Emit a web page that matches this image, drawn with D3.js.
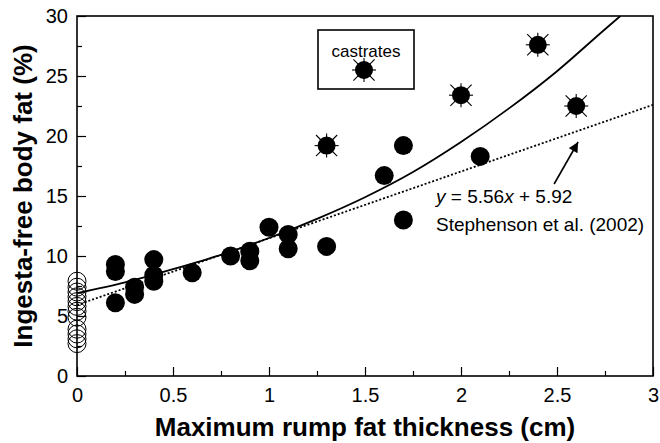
<!DOCTYPE html>
<html>
<head>
<meta charset="utf-8">
<script src="https://cdn.jsdelivr.net/npm/d3@7"></script>
<style>
  body { margin: 0; background: #fff; }
  text { font-family: "Liberation Sans", Arial, sans-serif; }
</style>
</head>
<body>
<div id="chart"></div>
<script>
const width = 660, height = 443;
const margin = { top: 16, right: 7, bottom: 67, left: 77 };

// steers measured with rump fat > 0
const steerX = [0.2, 0.2, 0.2, 0.3, 0.3, 0.4, 0.4, 0.4, 0.6, 0.8, 0.9, 0.9, 1.0, 1.1, 1.1, 1.3, 1.6, 1.7, 1.7, 2.1];
const steerY = [9.3, 8.7, 6.1, 7.4, 6.8, 9.7, 8.4, 7.9, 8.6, 10.0, 10.4, 9.6, 12.4, 11.8, 10.6, 10.8, 16.7, 19.2, 13.0, 18.3];

// castrates
const castrateX = [1.3, 2.0, 2.4, 2.6];
const castrateY = [19.2, 23.4, 27.6, 22.5];

// animals with no measurable rump fat (open circles)
const zeroFatY = [7.9, 7.4, 7.0, 6.6, 6.2, 5.8, 5.4, 4.9, 3.9, 3.5, 3.1, 2.7];

// fitted curve
const curveX = [0, 0.25, 0.5, 0.75, 1.0, 1.25, 1.5, 1.75, 2.0, 2.25, 2.5, 2.75, 2.83];
const curveY = [6.9, 7.8, 8.9, 10.1, 11.5, 13.1, 14.9, 17.0, 19.5, 22.3, 25.4, 28.9, 30];

// Stephenson et al. (2002) line
const refX = [0, 3];
const refY = [5.92, 22.6];

const xTicks = [0, 0.5, 1, 1.5, 2, 2.5, 3];
const xMinorTicks = [0.25, 0.75, 1.25, 1.75, 2.25, 2.75];
const yTicks = [0, 5, 10, 15, 20, 25, 30];
const yMinorTicks = [2.5, 7.5, 12.5, 17.5, 22.5, 27.5];

const svg = d3.select("#chart").append("svg")
  .attr("width", width)
  .attr("height", height);

const innerWidth = width - margin.left - margin.right;
const innerHeight = height - margin.top - margin.bottom;

const g = svg.append("g").attr("transform", `translate(${margin.left},${margin.top})`);

const x = d3.scaleLinear().domain([0, 3]).range([0, innerWidth]);
const y = d3.scaleLinear().domain([0, 30]).range([innerHeight, 0]);

const defs = svg.append("defs");
defs.append("clipPath").attr("id", "clip")
  .append("rect").attr("width", innerWidth).attr("height", innerHeight);

defs.append("marker")
  .attr("id", "arrow")
  .attr("viewBox", "0 0 10 10")
  .attr("refX", 10).attr("refY", 5)
  .attr("markerWidth", 12).attr("markerHeight", 10)
  .attr("markerUnits", "userSpaceOnUse")
  .attr("orient", "auto")
  .append("path").attr("d", "M0,0L10,5L0,10Z").attr("fill", "#000");

// axes: inward ticks, labels outside
const fontTick = "20px";
const xAxis = g.append("g")
  .attr("transform", `translate(0,${innerHeight})`)
  .call(d3.axisBottom(x).tickValues(xTicks).tickSizeInner(-9).tickSizeOuter(0).tickPadding(12)
    .tickFormat(d => d));
const xMinor = g.append("g")
  .attr("transform", `translate(0,${innerHeight})`)
  .call(d3.axisBottom(x).tickValues(xMinorTicks).tickSizeInner(-5).tickSizeOuter(0).tickFormat(""));
const yAxis = g.append("g")
  .call(d3.axisLeft(y).tickValues(yTicks).tickSizeInner(-9).tickSizeOuter(0).tickPadding(9));
const yMinor = g.append("g")
  .call(d3.axisLeft(y).tickValues(yMinorTicks).tickSizeInner(-5).tickSizeOuter(0).tickFormat(""));

[xAxis, xMinor, yAxis, yMinor].forEach(a => {
  a.select(".domain").remove();
  a.attr("font-size", fontTick).attr("font-family", "'Liberation Sans', Arial, sans-serif");
  a.selectAll("line").attr("stroke", "#000").attr("stroke-width", 1.2);
  a.selectAll("text").attr("fill", "#000");
});

// frame
g.append("rect")
  .attr("width", innerWidth)
  .attr("height", innerHeight)
  .attr("fill", "none")
  .attr("stroke", "#000")
  .attr("stroke-width", 1.6);

const plot = g.append("g").attr("clip-path", "url(#clip)");

// open circles at zero rump fat
g.append("g").selectAll("circle")
  .data(zeroFatY)
  .join("circle")
  .attr("cx", x(0))
  .attr("cy", d => y(d))
  .attr("r", 9)
  .attr("fill", "none")
  .attr("stroke", "#000")
  .attr("stroke-width", 1);

// reference line (dotted)
plot.append("path")
  .datum(refX.map((v, i) => [v, refY[i]]))
  .attr("fill", "none")
  .attr("stroke", "#000")
  .attr("stroke-width", 1.8)
  .attr("stroke-dasharray", "2,2")
  .attr("d", d3.line().x(d => x(d[0])).y(d => y(d[1])));

// fitted curve (solid)
plot.append("path")
  .datum(curveX.map((v, i) => [v, curveY[i]]))
  .attr("fill", "none")
  .attr("stroke", "#000")
  .attr("stroke-width", 1.8)
  .attr("d", d3.line().x(d => x(d[0])).y(d => y(d[1])).curve(d3.curveMonotoneX));

// steers
g.append("g").selectAll("circle")
  .data(steerX.map((v, i) => [v, steerY[i]]))
  .join("circle")
  .attr("cx", d => x(d[0]))
  .attr("cy", d => y(d[1]))
  .attr("r", 9.5)
  .attr("fill", "#000");

// castrate symbol: black dot with asterisk spokes
function castrate(sel) {
  const spokes = [[0, 12], [90, 12], [45, 15], [135, 15]];
  spokes.forEach(([a, len]) => {
    const r = a * Math.PI / 180;
    sel.append("line")
      .attr("x1", -len * Math.cos(r)).attr("y1", -len * Math.sin(r))
      .attr("x2", len * Math.cos(r)).attr("y2", len * Math.sin(r))
      .attr("stroke", "#000").attr("stroke-width", 1.1);
  });
  sel.append("circle").attr("r", 9).attr("fill", "#000");
}

g.append("g").selectAll("g")
  .data(castrateX.map((v, i) => [v, castrateY[i]]))
  .join("g")
  .attr("transform", d => `translate(${x(d[0])},${y(d[1])})`)
  .each(function() { castrate(d3.select(this)); });

// legend
const legend = g.append("g").attr("transform", "translate(241,14)");
legend.append("rect")
  .attr("width", 96).attr("height", 59)
  .attr("fill", "#fff").attr("stroke", "#000").attr("stroke-width", 1.6);
legend.append("text")
  .attr("x", 48).attr("y", 27)
  .attr("text-anchor", "middle")
  .attr("font-size", "17px")
  .text("castrates");
castrate(legend.append("g").attr("transform", "translate(46,40)"));

// annotation
g.append("line")
  .attr("x1", x(2.485)).attr("y1", y(16.0))
  .attr("x2", x(2.61)).attr("y2", y(19.5))
  .attr("stroke", "#000").attr("stroke-width", 1.6)
  .attr("marker-end", "url(#arrow)");

const eq = g.append("text")
  .attr("x", x(1.87)).attr("y", y(14.4))
  .attr("font-size", "19px");
eq.append("tspan").attr("font-style", "italic").text("y");
eq.append("tspan").text(" = 5.56");
eq.append("tspan").attr("font-style", "italic").text("x");
eq.append("tspan").text(" + 5.92");

g.append("text")
  .attr("x", x(1.87)).attr("y", y(12.1))
  .attr("font-size", "19px")
  .text("Stephenson et al. (2002)");

// axis titles
svg.append("text")
  .attr("x", margin.left + innerWidth / 2)
  .attr("y", 436)
  .attr("text-anchor", "middle")
  .attr("font-size", "26px")
  .attr("font-weight", "bold")
  .text("Maximum rump fat thickness (cm)");

svg.append("text")
  .attr("transform", `translate(32, ${margin.top + innerHeight / 2}) rotate(-90)`)
  .attr("text-anchor", "middle")
  .attr("font-size", "26px")
  .attr("font-weight", "bold")
  .text("Ingesta-free body fat (%)");
</script>
</body>
</html>
